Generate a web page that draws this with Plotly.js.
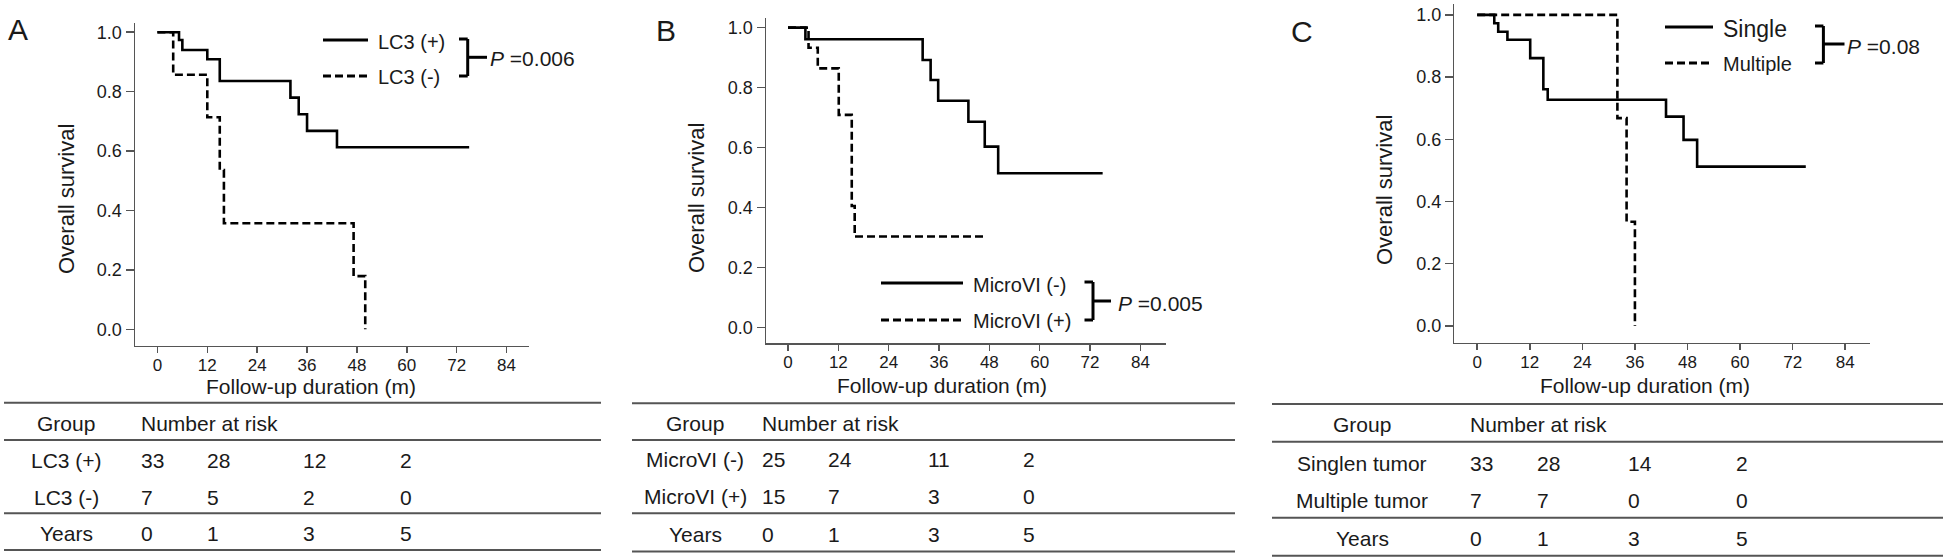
<!DOCTYPE html>
<html>
<head>
<meta charset="utf-8">
<script src="https://cdn.plot.ly/plotly-3.0.1.min.js"></script>
<style>html,body{margin:0;padding:0;background:#fff}#chart{width:1946px;height:559px}</style>
</head>
<body>
<div id="chart"></div>
<script>
// ---------- DATA ----------
const tickMonths = [0, 12, 24, 36, 48, 60, 72, 84];
const tickSurvival = [0, 0.2, 0.4, 0.6, 0.8, 1.0];

// Panel A
const lc3PosMonths   = [0, 5.2, 6, 12, 15, 32, 34, 36, 43.2, 75];
const lc3PosSurvival = [1.0, 0.974, 0.940, 0.909, 0.836, 0.780, 0.724, 0.668, 0.613, 0.613];
const lc3NegMonths   = [0, 3.8, 12, 15, 16, 47.2, 50];
const lc3NegSurvival = [1.0, 0.857, 0.714, 0.536, 0.357, 0.179, 0.0];

// Panel B
const microNegMonths   = [0, 4.15, 32.1, 34, 35.8, 43, 46.9, 50.1, 75];
const microNegSurvival = [1.0, 0.961, 0.892, 0.825, 0.756, 0.686, 0.603, 0.514, 0.514];
const microPosMonths   = [0, 4.9, 7.1, 12.1, 15.2, 15.9, 47.1];
const microPosSurvival = [1.0, 0.933, 0.864, 0.709, 0.405, 0.303, 0.303];

// Panel C
const singleMonths     = [0, 3.9, 4.8, 6.9, 12.1, 15.1, 16.1, 43.1, 47.1, 50.2, 75];
const singleSurvival   = [1.0, 0.973, 0.946, 0.920, 0.861, 0.761, 0.727, 0.673, 0.598, 0.512, 0.512];
const multipleMonths   = [0, 32.0, 34.1, 36.0];
const multipleSurvival = [1.0, 0.668, 0.335, 0.0];

// Legends and p-values
const panelLetters = ['A', 'B', 'C'];
const legendA = ['LC3 (+)', 'LC3 (-)'];
const legendB = ['MicroVI (-)', 'MicroVI (+)'];
const legendC = ['Single', 'Multiple'];
const pValues = ['0.006', '0.005', '0.08'];

// Number-at-risk tables
const riskYears = [0, 1, 3, 5];
const tableAGroups = ['LC3 (+)', 'LC3 (-)'];
const tableARisk1 = [33, 28, 12, 2];
const tableARisk2 = [7, 5, 2, 0];
const tableBGroups = ['MicroVI (-)', 'MicroVI (+)'];
const tableBRisk1 = [25, 24, 11, 2];
const tableBRisk2 = [15, 7, 3, 0];
const tableCGroups = ['Singlen tumor', 'Multiple tumor'];
const tableCRisk1 = [33, 28, 14, 2];
const tableCRisk2 = [7, 7, 0, 0];

// ---------- LAYOUT HELPERS ----------
const W = 1946, H = 559;
const FONT = 'Liberation Sans, Arial, Helvetica, sans-serif';
const px = v => v / W;
const py = v => 1 - v / H;

const shapes = [];
const annotations = [];
function hline(x0, x1, y, w, c) {
  shapes.push({type: 'line', xref: 'paper', yref: 'paper', x0: px(x0), x1: px(x1), y0: py(y), y1: py(y),
    line: {color: c || '#000', width: w || 2.5}});
}
function vline(x, y0, y1, w, c) {
  shapes.push({type: 'line', xref: 'paper', yref: 'paper', x0: px(x), x1: px(x), y0: py(y0), y1: py(y1),
    line: {color: c || '#000', width: w || 2.5}});
}
function text(x, y, t, size, xanchor, extra) {
  annotations.push(Object.assign({xref: 'paper', yref: 'paper', x: px(x), y: py(y), text: t, showarrow: false,
    xanchor: xanchor || 'center', yanchor: 'middle', font: {family: FONT, size: size, color: '#1a1a1a'}}, extra || {}));
}

function xAxis(d0, d1, range, anchor) {
  return {domain: [px(d0), px(d1)], range: range, anchor: anchor, showgrid: false, zeroline: false,
    showline: true, linecolor: '#555', linewidth: 1.5, ticks: 'outside', ticklen: 6, tickwidth: 1.5,
    tickcolor: '#555', tickvals: tickMonths, ticklabelstandoff: -3,
    tickfont: {family: FONT, size: 17, color: '#1a1a1a'}, fixedrange: true};
}
function yAxis(top, bottom, range, anchor) {
  return {domain: [py(bottom), py(top)], range: range, anchor: anchor, showgrid: false, zeroline: false,
    showline: true, linecolor: '#555', linewidth: 1.5, ticks: 'outside', ticklen: 8, tickwidth: 1.5,
    tickcolor: '#555', tickvals: tickSurvival, tickformat: '.1f',
    tickfont: {family: FONT, size: 18, color: '#1a1a1a'}, fixedrange: true};
}

function km(xs, ys, dashed, xa, ya) {
  return {x: xs, y: ys, type: 'scatter', mode: 'lines', line: {shape: 'hv', color: '#000', width: 2.6,
    dash: dashed ? '8px,4px' : 'solid'}, xaxis: xa, yaxis: ya, showlegend: false, hoverinfo: 'skip'};
}

const traces = [
  km(lc3NegMonths, lc3NegSurvival, true, 'x', 'y'),
  km(lc3PosMonths, lc3PosSurvival, false, 'x', 'y'),
  km(microPosMonths, microPosSurvival, true, 'x2', 'y2'),
  km(microNegMonths, microNegSurvival, false, 'x2', 'y2'),
  km(multipleMonths, multipleSurvival, true, 'x3', 'y3'),
  km(singleMonths, singleSurvival, false, 'x3', 'y3')
];

// ---------- PANEL DECORATIONS ----------
text(18, 29, panelLetters[0], 30);
text(666, 30, panelLetters[1], 30);
text(1302, 31, panelLetters[2], 30);

text(311, 386, 'Follow-up duration (m)', 21);
text(942, 385, 'Follow-up duration (m)', 21);
text(1645, 385, 'Follow-up duration (m)', 21);
text(66, 199, 'Overall survival', 22, 'center', {textangle: -90});
text(696, 198, 'Overall survival', 22, 'center', {textangle: -90});
text(1384, 190, 'Overall survival', 22, 'center', {textangle: -90});

function legendBlock(sx0, sx1, yTop, yBot, labels, tx, bx, hookX, midX, midY, pText, pX, pY, sizes) {
  hline(sx0, sx1, yTop, 3);
  shapes.push({type: 'line', xref: 'paper', yref: 'paper', x0: px(sx0), x1: px(sx1), y0: py(yBot), y1: py(yBot),
    line: {color: '#000', width: 3, dash: '8px,4px'}});
  text(tx, yTop + 2, labels[0], sizes[0], 'left');
  text(tx, yBot + 1, labels[1], sizes[1], 'left');
  vline(bx, yTop - 1, yBot, 3);
  hline(hookX, bx, yTop - 1, 3);
  hline(hookX, bx, yBot, 3);
  hline(bx, midX, midY, 3);
  text(pX, pY, '<i>P</i> =' + pText, 21, 'left');
}
legendBlock(323, 368, 40, 76, legendA, 376, 467.7, 459, 487, 57.3, pValues[0], 488, 58.5, [20, 20]);
legendBlock(881, 963, 283, 320, legendB, 971, 1093, 1084.5, 1111, 301, pValues[1], 1116, 303, [20, 20]);
legendBlock(1665, 1713, 27, 63, legendC, 1721, 1823.4, 1815, 1844.5, 44, pValues[2], 1844.5, 46.5, [23, 20]);

// ---------- NUMBER AT RISK TABLES ----------
function riskTable(x0, x1, lines, rowsY, labelX, cols, groups, r1, r2) {
  lines.forEach(y => hline(x0, x1, y, 2, '#555'));
  text(labelX, rowsY[0], 'Group', 21);
  text(cols[0], rowsY[0], 'Number at risk', 21, 'left');
  text(labelX, rowsY[1], groups[0], 21);
  text(labelX, rowsY[2], groups[1], 21);
  text(labelX, rowsY[3], 'Years', 21);
  cols.forEach((cx, i) => {
    text(cx, rowsY[1], String(r1[i]), 21, 'left');
    text(cx, rowsY[2], String(r2[i]), 21, 'left');
    text(cx, rowsY[3], String(riskYears[i]), 21, 'left');
  });
}
riskTable(4, 601, [402.7, 440, 513.3, 550], [423, 460, 497, 533], 66, [139, 205, 301, 398],
  tableAGroups, tableARisk1, tableARisk2);
riskTable(632, 1235, [403.3, 440, 513.3, 551.5], [423, 459, 496, 534], 695, [760, 826, 926, 1021],
  tableBGroups, tableBRisk1, tableBRisk2);
riskTable(1272, 1943, [404, 441.7, 517.7, 555.7], [424, 463, 500.5, 538], 1362, [1468, 1535, 1626, 1734],
  tableCGroups, tableCRisk1, tableCRisk2);

const layout = {
  width: W, height: H, margin: {l: 0, r: 0, t: 0, b: 0},
  paper_bgcolor: '#fff', plot_bgcolor: 'rgba(0,0,0,0)', showlegend: false,
  font: {family: FONT, color: '#1a1a1a'},
  xaxis: xAxis(135, 528.6, [-5.39, 89.3], 'y'),
  yaxis: yAxis(22.7, 345.7, [-0.055, 1.032], 'x'),
  xaxis2: xAxis(766, 1166, [-5.24, 90.1], 'y2'),
  yaxis2: yAxis(18.3, 343.3, [-0.053, 1.031], 'x2'),
  xaxis3: xAxis(1454.4, 1870.2, [-5.2, 89.7], 'y3'),
  yaxis3: yAxis(4, 342.7, [-0.054, 1.035], 'x3'),
  shapes: shapes,
  annotations: annotations
};

Plotly.newPlot('chart', traces, layout, {displayModeBar: false, staticPlot: true});
</script>
</body>
</html>
